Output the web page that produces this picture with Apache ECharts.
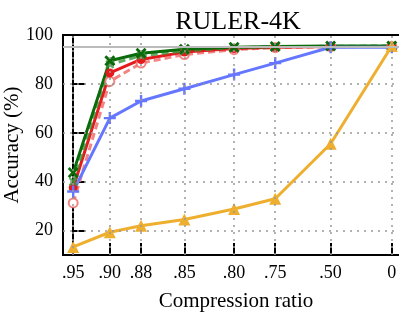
<!DOCTYPE html>
<html lang="en">
<head>
    <meta charset="UTF-8">
    <title>RULER-4K</title>
    <style>
        html,body{
            margin: 0;
            width: 100%;
            height: 100%;
        }
        #chartmain{
            width: 399px;
            height: 312px;
        }
    </style>
</head>
<body>
<div id="chartmain"></div>
<script src="https://cdn.jsdelivr.net/npm/echarts@6.0.0/dist/echarts.min.js"></script>
<script type="text/javascript">
    // x axis: compression ratios, placed at uneven positions as in the figure
    var ratioLabels = ['.95', '.90', '.88', '.85', '.80', '.75', '.50', '0'];
    var ratioPos = [0, 11.5, 21.3, 34.9, 50.5, 63.4, 80.8, 100];
    var yTicks = [20, 40, 60, 80, 100];
    var refLine = 95;

    // accuracy (%) per method
    var greenSolid = [43.7, 89.5, 92.5, 94.2, 95, 95.3, 95.5, 95.5];
    var greenDash = [40, 88, 91.5, 93.5, 94.8, 95.2, 95.4, 95.5];
    var redSolid = [37.5, 84.5, 90, 93, 94.5, 95, 95.3, 95.3];
    var redDash = [31.3, 81, 88.5, 92, 94, 94.8, 95.2, 95.3];
    var blue = [36, 66, 73, 78, 83.8, 88.5, 95, 95];
    var orange = [13.3, 19.3, 22, 24.5, 28.8, 33, 55.5, 95.5];

    var serif = '"Liberation Serif", "DejaVu Serif", serif';
    var crossPath = 'path://M0,1.8L1.8,0L5,3.2L8.2,0L10,1.8L6.8,5L10,8.2L8.2,10L5,6.8L1.8,10L0,8.2L3.2,5Z';
    var plusPath = 'path://M4,0H6V4H10V6H6V10H4V6H0V4H4Z';

    function pairs(arr){
        return arr.map(function(v, i){ return [ratioPos[i], v]; });
    }

    function line(data, color, opts){
        return Object.assign({
            type: 'line',
            data: pairs(data),
            symbolSize: 10,
            lineStyle: { color: color, width: 3 },
            itemStyle: { color: color },
            z: 3
        }, opts);
    }

    var gridLines = [];
    ratioPos.forEach(function(p){ gridLines.push({ xAxis: p }); });
    yTicks.slice(0, 4).forEach(function(v){ gridLines.push({ yAxis: v }); });

    var option = {
        animation: false,
        title: {
            text: 'RULER-4K',
            left: 233,
            textAlign: 'center',
            top: 4,
            textStyle: { fontFamily: serif, fontSize: 26, fontWeight: 'normal', color: '#000' }
        },
        grid: {
            left: 63, right: -10, top: 35, bottom: 57,
            containLabel: false,
            outerBoundsMode: 'none',
            show: true, borderColor: '#000', borderWidth: 2
        },
        xAxis: {
            type: 'value',
            min: -3.2,
            max: 105.4,
            name: 'Compression ratio',
            nameLocation: 'middle',
            nameGap: 36,
            nameMoveOverlap: false,
            nameTextStyle: { fontFamily: serif, fontSize: 21, color: '#000' },
            axisLine: { show: true, onZero: false, lineStyle: { color: '#000', width: 2 } },
            axisTick: { show: true, inside: true, length: 12, customValues: ratioPos, lineStyle: { color: '#000', width: 2 } },
            axisLabel: {
                customValues: ratioPos,
                margin: 9,
                hideOverlap: false,
                fontFamily: serif, fontSize: 18, color: '#000',
                formatter: function(v){
                    var i = ratioPos.indexOf(v);
                    return i >= 0 ? ratioLabels[i] : '';
                }
            },
            splitLine: { show: false }
        },
        yAxis: {
            type: 'value',
            min: 10,
            max: 100,
            name: 'Accuracy (%)',
            nameLocation: 'middle',
            nameGap: 40,
            nameMoveOverlap: false,
            nameTextStyle: { fontFamily: serif, fontSize: 21, color: '#000' },
            axisLine: { show: true, lineStyle: { color: '#000', width: 2 } },
            axisTick: { show: true, inside: true, length: 12, customValues: yTicks, lineStyle: { color: '#000', width: 2 } },
            axisLabel: { customValues: yTicks, margin: 10, fontFamily: serif, fontSize: 18, color: '#000' },
            splitLine: { show: false }
        },
        series: [
            {
                type: 'line',
                data: [],
                z: 1,
                silent: true,
                markLine: {
                    silent: true,
                    symbol: 'none',
                    label: { show: false },
                    lineStyle: { color: '#999', type: [2, 5], width: 1.5 },
                    data: gridLines.concat([{ yAxis: refLine, lineStyle: { color: '#bbb', type: 'solid', width: 2 } }])
                }
            },
            line(redDash, 'rgba(240,110,110,0.85)', {
                symbol: 'emptyCircle',
                symbolSize: 9,
                lineStyle: { color: 'rgba(240,110,110,0.85)', width: 3, type: [7, 4] },
                itemStyle: { color: 'rgba(240,110,110,0.85)', borderWidth: 2 }
            }),
            line(redSolid, '#e41a1c', { symbol: 'circle', symbolSize: 9 }),
            line(greenDash, 'rgba(60,150,60,0.8)', {
                symbol: crossPath,
                symbolSize: 9,
                lineStyle: { color: 'rgba(60,150,60,0.8)', width: 3, type: [7, 4] }
            }),
            line(greenSolid, '#0b6b0b', { symbol: crossPath, symbolSize: 11 }),
            line(blue, '#6677ff', { symbol: plusPath, symbolSize: 12, lineStyle: { color: '#6677ff', width: 3 } }),
            line(orange, '#eeae2e', { symbol: 'triangle', symbolSize: 12, lineStyle: { color: '#eeae2e', width: 3 } })
        ]
    };

    var myChart = echarts.init(document.getElementById('chartmain'));
    myChart.setOption(option);
</script>
</body>
</html>
